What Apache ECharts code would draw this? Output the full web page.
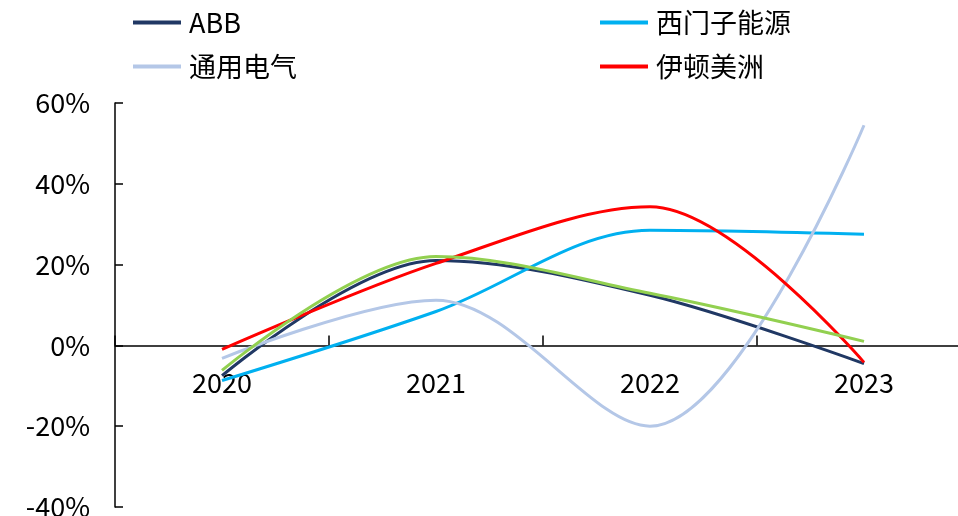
<!DOCTYPE html>
<html>
<head>
<meta charset="utf-8">
<script src="https://cdn.jsdelivr.net/npm/echarts@6/dist/echarts.min.js"></script>
<style>html,body{margin:0;padding:0;background:#fff;}#c{width:958px;height:516px;}</style>
</head>
<body>
<div id="c"></div>
<script>
const years = ['2020', '2021', '2022', '2023'];
const abb = [-7.5, 21.0, 12.4, -4.5];
const siemens = [-8.7, 8.4, 28.5, 27.5];
const ge = [-3.2, 11.2, -20.0, 54.5];
const eaton = [-1.0, 20.3, 34.3, -4.2];
const other = [-6.2, 22.0, 12.9, 1.0];
const yTicks = { min: -40, max: 60, interval: 20 };

const FONT = '"Noto Sans CJK SC", "Noto Sans", sans-serif';
const GRID_H = 404;
const zeroOffset = GRID_H * (0 - yTicks.min) / (yTicks.max - yTicks.min);
const chart = echarts.init(document.getElementById('c'));
function line(name, data, color) {
  return {
    name, type: 'line', data, smooth: 0.34, symbol: 'none',
    lineStyle: { color, width: 3 }, itemStyle: { color }
  };
}
const legendCommon = {
  orient: 'vertical', icon: 'rect', itemWidth: 48, itemHeight: 4, itemGap: 17,
  top: 9, padding: 0,
  textStyle: { fontFamily: FONT, fontSize: 27, color: '#000', padding: [0, 0, 0, 3] }
};
chart.setOption({
  animation: false,
  backgroundColor: '#fff',
  legend: [
    Object.assign({}, legendCommon, { left: 133, data: ['ABB', '通用电气'] }),
    Object.assign({}, legendCommon, { left: 600, data: ['西门子能源', '伊顿美洲'] })
  ],
  grid: { left: 115, top: 103, height: GRID_H, width: 856, containLabel: false, outerBoundsMode: 'none' },
  xAxis: {
    type: 'category', data: years, boundaryGap: true, position: 'bottom',
    offset: -zeroOffset,
    axisLine: { onZero: false, lineStyle: { color: '#000', width: 1.5 } },
    axisTick: { show: true, inside: true, length: 10, alignWithLabel: false, lineStyle: { color: '#000', width: 1.5 } },
    axisLabel: { margin: 24, fontFamily: FONT, fontSize: 27, color: '#000' },
    splitLine: { show: false }
  },
  yAxis: {
    type: 'value', min: yTicks.min, max: yTicks.max, interval: yTicks.interval,
    axisLine: { show: true, onZero: false, lineStyle: { color: '#000', width: 1.5 } },
    axisTick: { show: true, inside: true, length: 8, lineStyle: { color: '#000', width: 1.5 } },
    axisLabel: { margin: 25, fontFamily: FONT, fontSize: 27, color: '#000', formatter: '{value}%' },
    splitLine: { show: false }
  },
  series: [
    line('ABB', abb, '#203864'),
    line('西门子能源', siemens, '#00B0F0'),
    line('通用电气', ge, '#B4C7E7'),
    line('伊顿美洲', eaton, '#FF0000'),
    line('其他', other, '#92D050')
  ]
});
</script>
</body>
</html>
